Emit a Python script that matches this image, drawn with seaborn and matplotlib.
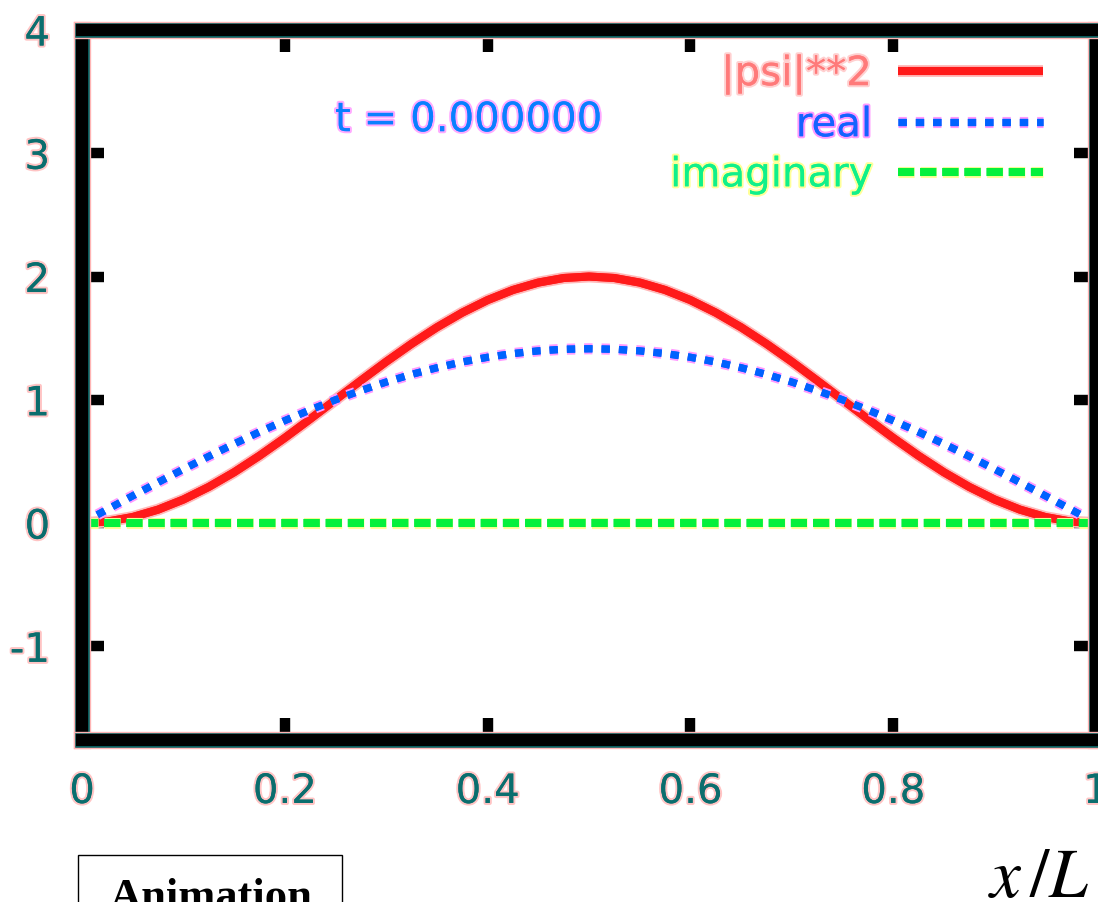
import matplotlib
matplotlib.use("Agg")
import matplotlib.pyplot as plt
import matplotlib.patheffects as pe
from matplotlib.patches import Rectangle
import numpy as np
import pandas as pd
import seaborn as sns

# Sample positions along the box, x/L
x_pos = [0.000, 0.025, 0.050, 0.075, 0.100, 0.125, 0.150, 0.175, 0.200, 0.225,
         0.250, 0.275, 0.300, 0.325, 0.350, 0.375, 0.400, 0.425, 0.450, 0.475,
         0.500, 0.525, 0.550, 0.575, 0.600, 0.625, 0.650, 0.675, 0.700, 0.725,
         0.750, 0.775, 0.800, 0.825, 0.850, 0.875, 0.900, 0.925, 0.950, 0.975,
         1.000]

# Probability density |psi|^2
psi_sq = [0.000, 0.012, 0.049, 0.109, 0.191, 0.293, 0.412, 0.546, 0.691, 0.844,
          1.000, 1.156, 1.309, 1.454, 1.588, 1.707, 1.809, 1.891, 1.951, 1.988,
          2.000, 1.988, 1.951, 1.891, 1.809, 1.707, 1.588, 1.454, 1.309, 1.156,
          1.000, 0.844, 0.691, 0.546, 0.412, 0.293, 0.191, 0.109, 0.049, 0.012,
          0.000]

# Real part of psi
psi_real = [0.000, 0.111, 0.221, 0.330, 0.437, 0.541, 0.642, 0.739, 0.831, 0.918,
            1.000, 1.075, 1.144, 1.206, 1.260, 1.307, 1.345, 1.375, 1.397, 1.410,
            1.414, 1.410, 1.397, 1.375, 1.345, 1.307, 1.260, 1.206, 1.144, 1.075,
            1.000, 0.918, 0.831, 0.739, 0.642, 0.541, 0.437, 0.330, 0.221, 0.111,
            0.000]

# Imaginary part of psi
psi_imag = [0.0] * 41

x_ticks = [0, 0.2, 0.4, 0.6, 0.8, 1]
x_ticklabels = ["0", "0.2", "0.4", "0.6", "0.8", "1"]
y_ticks = [-1, 0, 1, 2, 3, 4]
y_ticklabels = ["-1", "0", "1", "2", "3", "4"]

time_label = "t = 0.000000"
series_labels = ["|psi|**2", "real", "imaginary"]

df = pd.DataFrame({"x": x_pos, "sq": psi_sq, "re": psi_real, "im": psi_imag})

sns.set_theme(style="white")
plt.rcParams["font.family"] = ["DejaVu Sans"]
plt.rcParams["mathtext.fontset"] = "stix"

W, H = 1098, 902
fig = plt.figure(figsize=(W / 100, H / 100), dpi=100)
ax = fig.add_axes([82 / W, (H - 740) / H, (1096 - 82) / W, 710 / H])

red = "#ff1a1a"
blue = "#0062ff"
green = "#05f03c"

sns.lineplot(data=df, x="x", y="sq", ax=ax, color=red, lw=5.8,
             label=series_labels[0], solid_capstyle="butt",
             path_effects=[pe.withStroke(linewidth=8.5, foreground="#ffb8b8"), pe.Normal()])
sns.lineplot(data=df, x="x", y="re", ax=ax, color=blue, lw=5.2,
             linestyle=(0, (1.15, 1.25)), label=series_labels[1],
             path_effects=[pe.withStroke(linewidth=8.0, foreground="#ff99ff"), pe.Normal()])
sns.lineplot(data=df, x="x", y="im", ax=ax, color=green, lw=5.8,
             linestyle=(0, (2.0, 0.75)), label=series_labels[2],
             path_effects=[pe.withStroke(linewidth=8.0, foreground="#ffff99"), pe.Normal()])

ax.set_xlim(0, 1)
ax.set_ylim(-1.76, 4)
ax.set_xlabel("")
ax.set_ylabel("")

tick_color = "#0b6e6e"
tick_fx = [pe.withStroke(linewidth=3, foreground="#ffc4c4"), pe.Normal()]
ax.set_xticks(x_ticks)
ax.set_xticklabels(x_ticklabels)
ax.set_yticks(y_ticks)
ax.set_yticklabels(y_ticklabels)
ax.tick_params(axis="both", which="major", direction="in", length=16, width=7.5,
               color="black", labelsize=29, labelcolor=tick_color, pad=23,
               top=True, right=True, bottom=True, left=True)
for lab in ax.get_xticklabels() + ax.get_yticklabels():
    lab.set_path_effects(tick_fx)

for side in ["left", "right", "top", "bottom"]:
    sp = ax.spines[side]
    sp.set_visible(True)
    sp.set_color("black")
    sp.set_linewidth(8.5)
    sp.set_path_effects([pe.withStroke(linewidth=12.5, foreground="#ffb4b4"),
                         pe.withStroke(linewidth=10.5, foreground="#0a5c5c"),
                         pe.Normal()])

# Legend: label on the left, sample on the right
leg = ax.legend(loc="upper right", bbox_to_anchor=(0.948, 0.966), frameon=False,
                markerfirst=False, fontsize=29, handlelength=3.6,
                handletextpad=0.65, labelspacing=0.25, borderpad=0,
                borderaxespad=0)
text_cols = ["#ff7a7a", "#1463ff", "#10f08a"]
text_halo = ["#ffd0d0", "#ff99ff", "#ffff99"]
for t, c, h in zip(leg.get_texts(), text_cols, text_halo):
    t.set_color(c)
    t.set_path_effects([pe.withStroke(linewidth=3, foreground=h), pe.Normal()])

ax.text(0.2495, 0.873, time_label, transform=ax.transAxes, fontsize=29,
        color="#0a80ff", ha="left", va="center",
        path_effects=[pe.withStroke(linewidth=3, foreground="#ffaaff"), pe.Normal()])

# Caption box and axis name below the plot
fig.patches.append(Rectangle((78 / W, -0.05), (342 - 78) / W, 0.05 + (H - 855) / H,
                             transform=fig.transFigure, facecolor="white",
                             edgecolor="black", linewidth=1.0))
fig.text(110 / W, (H - 909) / H, "Animation", fontfamily="Liberation Serif",
         fontweight="bold", fontsize=32, ha="left", va="baseline", color="black")
fig.text(988 / W, (H - 897) / H, r"$x\,/L$", fontsize=50, ha="left",
         va="baseline", color="black")

fig.savefig("out.png", dpi=100)
